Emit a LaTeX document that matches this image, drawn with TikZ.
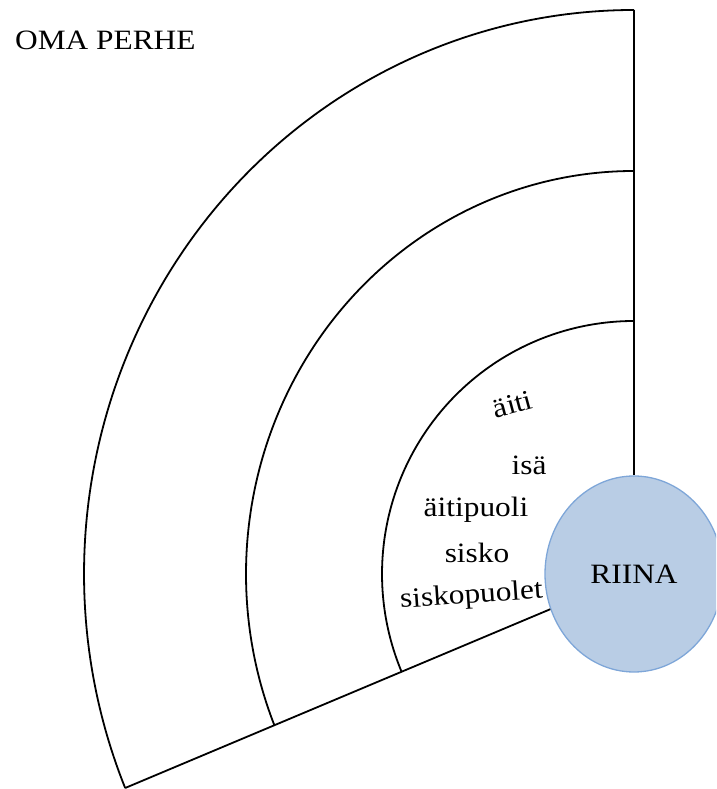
\documentclass[tikz,border=0pt]{standalone}
\usepackage{fontspec}
\setmainfont{Liberation Serif}
\usetikzlibrary{shapes.geometric, calc}
\newcommand{\widetext}[1]{\scalebox{1.12}[1]{#1}}

\begin{document}
\begin{tikzpicture}[x=1pt, y=1pt,
	ring/.style={line width=1.8pt},
	member/.style={anchor=base, inner sep=0pt, font=\fontsize{28}{34}\selectfont},
	riinanode/.style={ellipse, minimum width=178pt, minimum height=196pt, inner sep=0pt,
		fill={rgb,255:red,185;green,205;blue,229}, draw={rgb,255:red,126;green,166;blue,216},
		line width=1.3pt, font=\fontsize{28}{34}\selectfont}]
	\clip (0, 0) rectangle (716, 789);
	% Paths, nodes and rings:
	\coordinate (C) at (634, 215);
	\coordinate (T1) at (634, 779);
	\coordinate (B1) at ($(C)+(202.3:550 and 564)$);
	\draw[ring] (T1) arc[start angle=90, end angle=202.3, x radius=550, y radius=564];
	\draw[ring] (634, 618) arc[start angle=90, end angle=202.0, x radius=388, y radius=403];
	\draw[ring] (634, 468) arc[start angle=90, end angle=202.6, x radius=252, y radius=253];
	\draw node[riinanode] (RIINA) at (C) {\widetext{RIINA}};
	\draw[ring] (T1) -- (RIINA.north);
	\draw[ring] (B1) -- (RIINA);
	\draw node[member, anchor=base west] (OMA) at (15, 739) {\widetext{OMA PERHE}};
	\draw node[member, rotate=15] (AITI) at (515, 376) {\widetext{äiti}};
	\draw node[member] (ISA) at (529, 314) {\widetext{isä}};
	\draw node[member] (AITIPUOLI) at (476, 272) {\widetext{äitipuoli}};
	\draw node[member] (SISKO) at (477, 226) {\widetext{sisko}};
	\draw node[member, rotate=4] (SISKOPUOLET) at (472, 186) {\widetext{siskopuolet}};
\end{tikzpicture}
\end{document}
